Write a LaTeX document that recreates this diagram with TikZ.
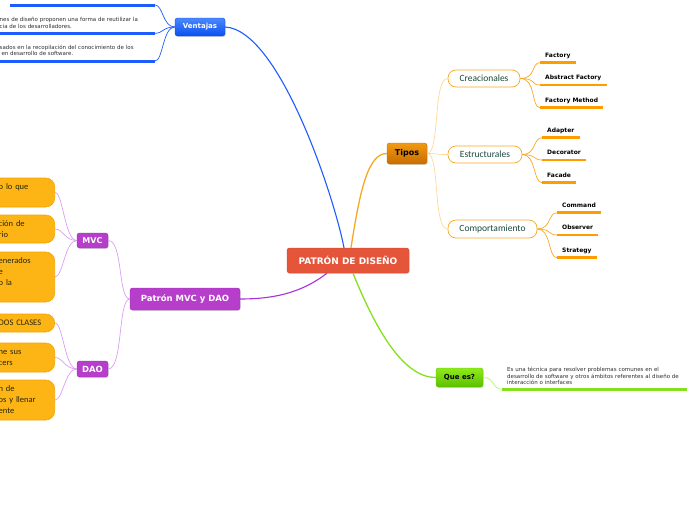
\documentclass[tikz,border=0pt]{standalone}
\usepackage{fontspec}
\setmainfont{DejaVu Sans}
\newfontfamily\carlito{Carlito}
\usetikzlibrary{shadows}
\definecolor{rojo}{HTML}{E4553A}
\definecolor{rojoosc}{HTML}{CC4630}
\definecolor{azul}{HTML}{0B50F0}
\definecolor{azulcl}{HTML}{4A88FF}
\definecolor{azulosc}{HTML}{0A44D0}
\definecolor{azullinea}{HTML}{1F5CFF}
\definecolor{naranja}{HTML}{F7A823}
\definecolor{naranjacl}{HTML}{FFD699}
\definecolor{naranjahoja}{HTML}{FF9D00}
\definecolor{tipocl}{HTML}{F29A12}
\definecolor{tipoosc}{HTML}{C86C00}
\definecolor{verde}{HTML}{5CC000}
\definecolor{verdecl}{HTML}{8EEA1A}
\definecolor{verdelinea}{HTML}{86E01E}
\definecolor{verdesuave}{HTML}{B8F07A}
\definecolor{morado}{HTML}{B63ECB}
\definecolor{moradoosc}{HTML}{9A2DB0}
\definecolor{moradolinea}{HTML}{A830D8}
\definecolor{moradocl}{HTML}{D9A0F0}
\definecolor{amarillo}{HTML}{FDB515}
\definecolor{amarilloosc}{HTML}{F5A300}
\definecolor{textoam}{HTML}{26260C}
\definecolor{verdeosc}{HTML}{1B4A3C}
\definecolor{gris}{HTML}{2E2E2E}
\newcommand{\fs}[2]{\fontsize{#1}{#2}\selectfont}
\newcommand{\sangria}{\leftskip=20pt\relax}

\begin{document}
\begin{tikzpicture}[x=1pt,y=-1pt,
		caja/.style={rounded corners=2.5pt,inner sep=0pt,drop shadow={opacity=0.3,shadow xshift=0.7pt,shadow yshift=-0.9pt}},
		rama/.style={draw=naranja,fill=white,rounded corners=8pt,line width=0.7pt,inner sep=0pt,text=verdeosc,font=\carlito\fs{9.5}{10}},
		hoja/.style={anchor=south west,inner xsep=5pt,inner ysep=3.9pt,text depth=1.6pt,text=black,font=\bfseries\fs{6}{7}},
		amarilla/.style={fill=amarillo,draw=amarilloosc,line width=0.6pt,rounded corners=9pt,anchor=east,text width=76pt,align=left,inner xsep=0pt,inner ysep=0pt,text=textoam,font=\carlito\fs{8.5}{11},execute at begin node=\sangria},
		texto/.style={anchor=base west,align=left,inner sep=0pt,text=gris,font=\fs{5.5}{6.6}},
		subraya/.style={line width=2.5pt},
		enlace/.style={line width=0.7pt}]
	\useasboundingbox (0,0) rectangle (696,520);

	\node[caja,fill=rojo,draw=rojoosc,text=white,minimum width=122pt,minimum height=25pt,font=\bfseries\fs{9}{10}] (patron) at (348,260.5) {PATRÓN DE DISEÑO};

	% ventajas
	\node[caja,top color=azulcl,bottom color=azul,draw=azulosc,text=white,minimum width=50pt,minimum height=18pt,font=\bfseries\fs{7}{8}] (ventajas) at (200,27) {Ventajas};
	\coordinate (v1) at (155,5);
	\coordinate (v2) at (155,33.3);
	\coordinate (v3) at (155,61);
	\node[texto,text width=150pt] (vtexto2) at (-0.5,21.5) {nes de diseño proponen una forma de reutilizar la\\cia de los desarrolladores.};
	\node[texto,text width=150pt] (vtexto3) at (-0.5,49) {sados en la recopilación del conocimiento de los\\\ en desarrollo de software.};
	\draw[subraya,line width=3pt,azullinea] (10,5) -- (v1);
	\draw[subraya,line width=3pt,azullinea] (0,33.3) -- (v2);
	\draw[subraya,line width=3pt,azullinea] (0,61) -- (v3);
	\draw[enlace,azullinea] (ventajas.west) .. controls +(-12,0) and +(8,0) .. (v1);
	\draw[enlace,azullinea] (ventajas.west) .. controls +(-12,0) and +(8,0) .. (v2);
	\draw[enlace,azullinea] (ventajas.west) .. controls +(-12,0) and +(8,0) .. (v3);
	\draw[line width=1.1pt,azullinea] (ventajas.east) .. controls (280,30) and (335,200) .. ([xshift=-4pt]patron.north);

	% tipos
	\node[caja,top color=tipocl,bottom color=tipoosc,draw=tipoosc,text=black,minimum width=40pt,minimum height=21pt,font=\bfseries\fs{8}{9}] (tipos) at (407,153.5) {Tipos};
	\node[rama,minimum width=72pt,minimum height=17pt] (crea) at (484,78.5) {Creacionales};
	\node[rama,minimum width=74pt,minimum height=17pt] (estr) at (485,154.5) {Estructurales};
	\node[rama,minimum width=89pt,minimum height=18pt] (comp) at (492.5,229) {Comportamiento};
	\draw[line width=1.3pt,naranja] ([xshift=3pt]patron.north) .. controls (360,190) and (368,153.5) .. (tipos.west);
	\draw[enlace,naranjacl] (tipos.east) .. controls +(13,0) and +(-15,0) .. (crea.west);
	\draw[enlace,naranjacl] (tipos.east) .. controls +(13,0) and +(-15,0) .. (estr.west);
	\draw[enlace,naranjacl] (tipos.east) .. controls +(13,0) and +(-15,0) .. (comp.west);

	\node[hoja] (factory) at (540,62.7) {Factory};
	\node[hoja] (abstract) at (540,85) {Abstract Factory};
	\node[hoja] (fmethod) at (540,107.7) {Factory Method};
	\node[hoja] (adapter) at (542,137.7) {Adapter};
	\node[hoja] (decorator) at (542,160) {Decorator};
	\node[hoja] (facade) at (542,182.7) {Facade};
	\node[hoja] (command) at (557,212.7) {Command};
	\node[hoja] (observer) at (557,235) {Observer};
	\node[hoja] (strategy) at (557,257.7) {Strategy};
	\draw[subraya,naranjahoja] (factory.south west) -- (factory.south east);
	\draw[subraya,naranjahoja] (abstract.south west) -- (abstract.south east);
	\draw[subraya,naranjahoja] (fmethod.south west) -- (fmethod.south east);
	\draw[subraya,naranjahoja] (adapter.south west) -- (adapter.south east);
	\draw[subraya,naranjahoja] (decorator.south west) -- (decorator.south east);
	\draw[subraya,naranjahoja] (facade.south west) -- (facade.south east);
	\draw[subraya,naranjahoja] (command.south west) -- (command.south east);
	\draw[subraya,naranjahoja] (observer.south west) -- (observer.south east);
	\draw[subraya,naranjahoja] (strategy.south west) -- (strategy.south east);
	\draw[enlace,naranja] (crea.east) .. controls +(16,0) and +(-9,0) .. (factory.south west);
	\draw[enlace,naranja] (crea.east) .. controls +(16,0) and +(-9,0) .. (abstract.south west);
	\draw[enlace,naranja] (crea.east) .. controls +(16,0) and +(-9,0) .. (fmethod.south west);
	\draw[enlace,naranja] (estr.east) .. controls +(14,0) and +(-9,0) .. (adapter.south west);
	\draw[enlace,naranja] (estr.east) .. controls +(14,0) and +(-9,0) .. (decorator.south west);
	\draw[enlace,naranja] (estr.east) .. controls +(14,0) and +(-9,0) .. (facade.south west);
	\draw[enlace,naranja] (comp.east) .. controls +(14,0) and +(-9,0) .. (command.south west);
	\draw[enlace,naranja] (comp.east) .. controls +(14,0) and +(-9,0) .. (observer.south west);
	\draw[enlace,naranja] (comp.east) .. controls +(14,0) and +(-9,0) .. (strategy.south west);

	% que es
	\node[caja,top color=verdecl,bottom color=verde,draw=verde,text=black,minimum width=47pt,minimum height=19pt,font=\bfseries\fs{7}{8}] (quees) at (459.5,377.5) {Que es?};
	\node[texto,text width=180pt] (qtexto) at (507,371.5) {Es una técnica para resolver problemas comunes en el\\desarrollo de software y otros ámbitos referentes al diseño de\\interacción o interfaces};
	\coordinate (q1) at (502,389.3);
	\coordinate (q2) at (687,389.3);
	\draw[subraya,verdelinea] (q1) -- (q2);
	\draw[line width=1.3pt,verdelinea] ([xshift=5pt]patron.south) .. controls (378,335) and (405,377.5) .. (quees.west);
	\draw[enlace,verdesuave] (quees.east) .. controls +(12,0) and +(-10,0) .. (q1);

	% patron mvc y dao
	\node[caja,fill=morado,draw=moradoosc,text=white,minimum width=110pt,minimum height=22pt,font=\bfseries\fs{8.5}{9}] (mvcdao) at (185,299) {Patrón MVC y DAO};
	\node[caja,fill=morado,draw=moradoosc,text=white,minimum width=31pt,minimum height=15pt,font=\bfseries\fs{8}{9}] (mvc) at (92.5,240.5) {MVC};
	\node[caja,fill=morado,draw=moradoosc,text=white,minimum width=31pt,minimum height=16pt,font=\bfseries\fs{8.5}{9}] (dao) at (92.5,369) {DAO};
	\draw[line width=1.1pt,moradolinea] (mvcdao.east) .. controls (280,299) and (305,290) .. ([xshift=-21pt]patron.south);
	\draw[enlace,moradocl] (mvc.east) .. controls +(15,0) and +(-12,0) .. (mvcdao.west);
	\draw[enlace,moradocl] (dao.east) .. controls +(15,0) and +(-12,0) .. (mvcdao.west);

	\node[amarilla,minimum height=29pt] (m1) at (55,192.5) {o lo que\\\mbox{}};
	\node[amarilla,minimum height=28pt] (m2) at (55,229) {ción de\\rio};
	\node[amarilla,minimum height=50pt] (m3) at (55,277) {enerados\\e\\o la\\\mbox{}};
	\node[amarilla,minimum height=18pt] (d1) at (55,323) {DOS CLASES};
	\node[amarilla,minimum height=29pt] (d2) at (55,357.5) {ne sus\\cers};
	\node[amarilla,minimum height=40pt] (d3) at (55,400) {n de\\os y llenar\\ente};
	\draw[enlace,moradocl] (mvc.west) .. controls +(-12,0) and +(8,0) .. (m1.east);
	\draw[enlace,moradocl] (mvc.west) .. controls +(-12,0) and +(8,0) .. (m2.east);
	\draw[enlace,moradocl] (mvc.west) .. controls +(-12,0) and +(8,0) .. (m3.east);
	\draw[enlace,moradocl] (dao.west) .. controls +(-12,0) and +(8,0) .. (d1.east);
	\draw[enlace,moradocl] (dao.west) .. controls +(-12,0) and +(8,0) .. (d2.east);
	\draw[enlace,moradocl] (dao.west) .. controls +(-12,0) and +(8,0) .. (d3.east);
\end{tikzpicture}
\end{document}
